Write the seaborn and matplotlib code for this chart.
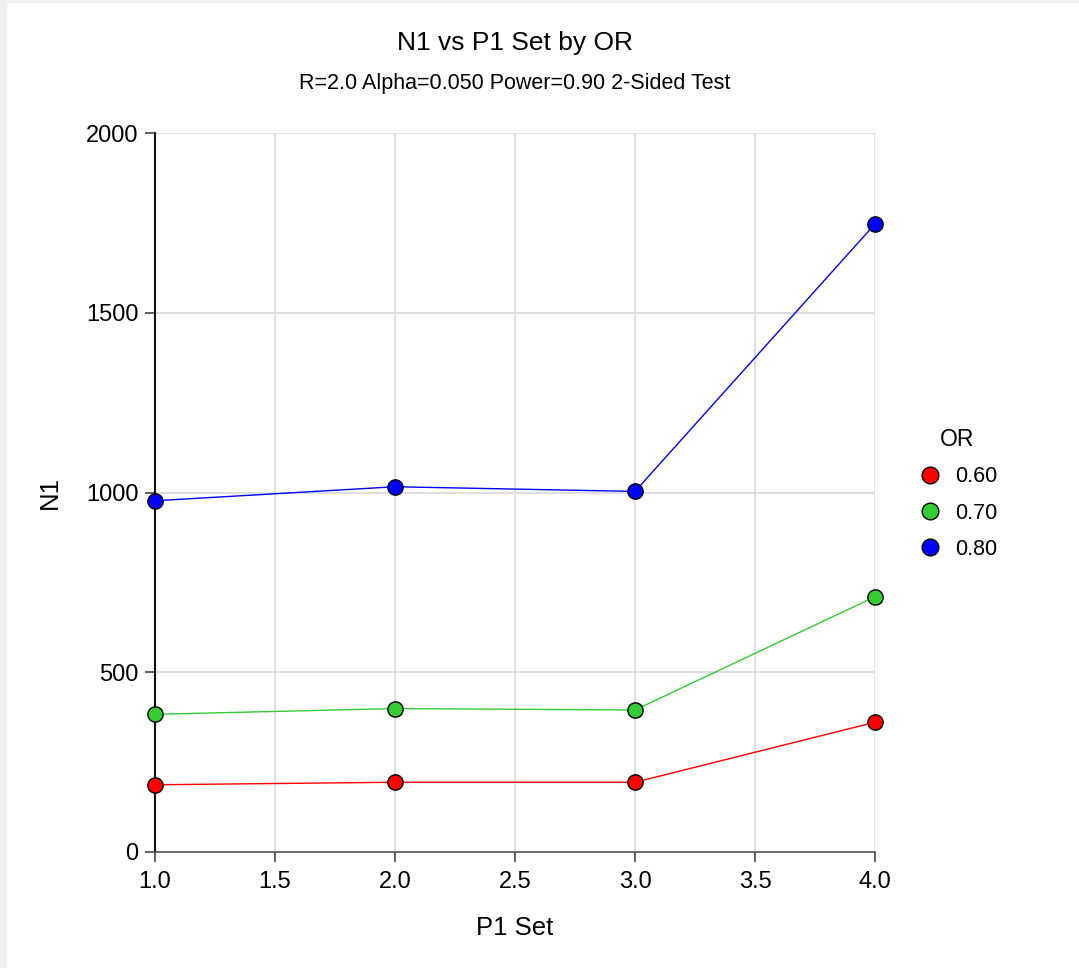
import pandas as pd
import matplotlib
matplotlib.use('Agg')
import matplotlib.pyplot as plt
import seaborn as sns
from matplotlib.lines import Line2D
from matplotlib.patches import Rectangle

# Values
p1_set = [1.0, 2.0, 3.0, 4.0]
or_labels = ['0.60', '0.70', '0.80']
n1_or060 = [187, 194, 194, 361]
n1_or070 = [383, 399, 395, 710]
n1_or080 = [977, 1016, 1003, 1747]
x_ticks = [1.0, 1.5, 2.0, 2.5, 3.0, 3.5, 4.0]
y_ticks = [0, 500, 1000, 1500, 2000]

colors = {'0.60': '#ff0000', '0.70': '#33cc33', '0.80': '#0000ff'}

# Long format table for seaborn
rows = []
for lab, vals in zip(or_labels, [n1_or060, n1_or070, n1_or080]):
    for x, y in zip(p1_set, vals):
        rows.append({'P1 Set': x, 'N1': y, 'OR': lab})
data = pd.DataFrame(rows)

sns.set_style('white')
plt.rcParams['font.family'] = ['Liberation Sans', 'DejaVu Sans']
plt.rcParams['text.color'] = 'black'
plt.rcParams['axes.labelcolor'] = 'black'

fig = plt.figure(figsize=(10.79, 9.68), dpi=100)
ax = fig.add_axes([155 / 1079, 1 - 852 / 968, 720 / 1079, 719 / 968])

# grey screenshot edge on left and top
fig.patches.append(Rectangle((0, 0), 6 / 1079, 1, transform=fig.transFigure,
                             color='#f0f0f0', zorder=0))
fig.patches.append(Rectangle((0, 1 - 2 / 968), 1, 2 / 968, transform=fig.transFigure,
                             color='#f0f0f0', zorder=0))

sns.lineplot(data=data, x='P1 Set', y='N1', hue='OR', palette=colors,
             marker='o', markersize=11, markeredgecolor='black',
             markeredgewidth=1.0, linewidth=1.0, legend=False, ax=ax,
             clip_on=False, zorder=3)

ax.set_xlim(1.0, 4.0)
ax.set_ylim(0, 2000)
ax.set_xticks(x_ticks)
ax.set_xticklabels([f'{t:.1f}' for t in x_ticks])
ax.set_yticks(y_ticks)
ax.set_yticklabels([str(t) for t in y_ticks])
ax.grid(True, color='#d9d9d9', linewidth=1.2)
ax.set_axisbelow(True)

for s in ['top', 'right']:
    ax.spines[s].set_visible(False)
ax.spines['left'].set_color('#111111')
ax.spines['left'].set_linewidth(1.5)
ax.spines['bottom'].set_color('#555555')
ax.spines['bottom'].set_linewidth(1.2)
ax.tick_params(axis='both', direction='out', length=7, width=1.2,
               colors='#444444', labelcolor='black', labelsize=17)
ax.tick_params(axis='x', bottom=True, pad=7)
ax.tick_params(axis='y', left=True, pad=5)

ax.set_xlabel('P1 Set', fontsize=18.5, labelpad=16)
ax.set_ylabel('N1', fontsize=18.5, labelpad=17)

fig.text(515 / 1079, 1 - 43 / 968, 'N1 vs P1 Set by OR', ha='center', va='center',
         fontsize=19)
fig.text(515 / 1079, 1 - 83 / 968, 'R=2.0 Alpha=0.050 Power=0.90 2-Sided Test',
         ha='center', va='center', fontsize=15.5)

handles = [Line2D([], [], linestyle='none', marker='o', markersize=12,
                  markerfacecolor=colors[l], markeredgecolor='black',
                  markeredgewidth=1.0) for l in or_labels]
leg = fig.legend(handles, or_labels, title='OR', loc='center left',
                 bbox_to_anchor=(908 / 1079, 1 - 494 / 968), frameon=False,
                 fontsize=15.5, title_fontsize=16.5, handlelength=1.2,
                 handletextpad=0.6, labelspacing=0.7, borderaxespad=0)

fig.savefig('out.png', dpi=100)
